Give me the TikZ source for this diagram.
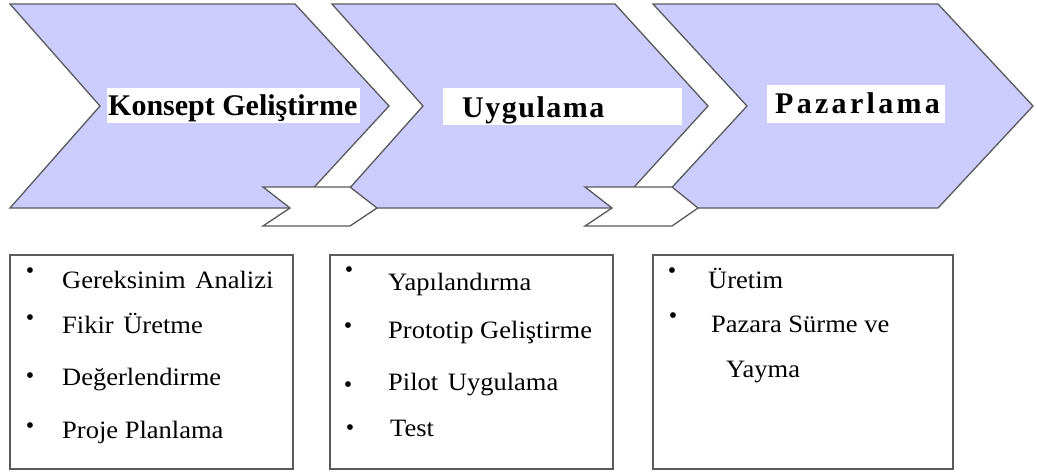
\documentclass[tikz,border=0pt]{standalone}
\usepackage{fontspec}
\setmainfont{Liberation Serif}
\newfontfamily\bodyfont{Liberation Serif}[FakeStretch=1.06]
\newfontfamily\titlefont{Liberation Serif Bold}
\definecolor{chev}{HTML}{CCCCFF}
\definecolor{edge}{HTML}{5A5A5A}
\tikzset{
  chevshape/.style={fill=chev, draw=edge, line width=1.3pt, line join=miter},
  smallchev/.style={fill=white, draw=edge, line width=1.3pt},
  listbox/.style={draw=edge, line width=1.4pt, fill=white},
  titlebg/.style={fill=white, draw=none},
  titletext/.style={anchor=base west, inner sep=0pt, font=\titlefont\fontsize{30}{36}\selectfont},
  item/.style={anchor=base west, inner sep=0pt, font=\bodyfont\fontsize{25}{30}\selectfont},
  bul/.style={anchor=center, inner sep=0pt, font=\fontsize{24}{26}\selectfont}
}
\begin{document}
\begin{tikzpicture}[x=1pt, y=-1pt]
\useasboundingbox[fill=white] (0,0) rectangle (1037,474);
% big chevrons
\path[chevshape] (10,4) -- (295,4) -- (389,106) -- (295,208) -- (10,208) -- (100,106) -- cycle;
\path[chevshape] (332,4) -- (615,4) -- (708,106) -- (615,208) -- (332,208) -- (423,106) -- cycle;
\path[chevshape] (653,4) -- (938,4) -- (1033,106) -- (938,208) -- (653,208) -- (747,106) -- cycle;
% small chevrons
\path[smallchev] (263,187) -- (350,187) -- (377,208) -- (350,226) -- (263,226) -- (290,208) -- cycle;
\path[smallchev] (585,187) -- (672,187) -- (698,208) -- (672,226) -- (585,226) -- (612,208) -- cycle;
% title backgrounds
\path[titlebg] (107,88) rectangle (360,123);
\path[titlebg] (443,88) rectangle (682,125);
\path[titlebg] (767,85) rectangle (945,123);
\node[titletext] (t1) at (108,115) {Konsept Geliştirme};
\node[titletext] (t2) at (462,117) {\addfontfeature{LetterSpace=5}Uygulama};
\node[titletext] (t3) at (775,113) {\addfontfeature{LetterSpace=11}Pazarlama};
% list boxes
\path[listbox] (10,255) rectangle (293,469);
\path[listbox] (330,255) rectangle (613,469);
\path[listbox] (653,255) rectangle (953,469);
% box 1
\node[bul] (b11) at (30,273) {•};
\node[item] (i11) at (62,288) {Gereksinim\kern3pt\ Analizi};
\node[bul] (b12) at (30,320) {•};
\node[item] (i12) at (62,333) {Fikir\kern3pt\ Üretme};
\node[bul] (b13) at (30,378) {•};
\node[item] (i13) at (62,385) {Değerlendirme};
\node[bul] (b14) at (30,428) {•};
\node[item] (i14) at (62,438) {Proje Planlama};
% box 2
\node[bul] (b21) at (349,272) {•};
\node[item] (i21) at (388,290) {Yapılandırma};
\node[bul] (b22) at (348,328) {•};
\node[item] (i22) at (388,338) {Prototip Geliştirme};
\node[bul] (b23) at (348,387) {•};
\node[item] (i23) at (388,390) {Pilot\kern3pt\ Uygulama};
\node[bul] (b24) at (350,430) {•};
\node[item] (i24) at (390,436) {Test};
% box 3
\node[bul] (b31) at (672,273) {•};
\node[item] (i31) at (708,288) {Üretim};
\node[bul] (b32) at (673,318) {•};
\node[item] (i32) at (711,332) {Pazara Sürme ve};
\node[item] (i33) at (726,377) {Yayma};
\end{tikzpicture}
\end{document}
